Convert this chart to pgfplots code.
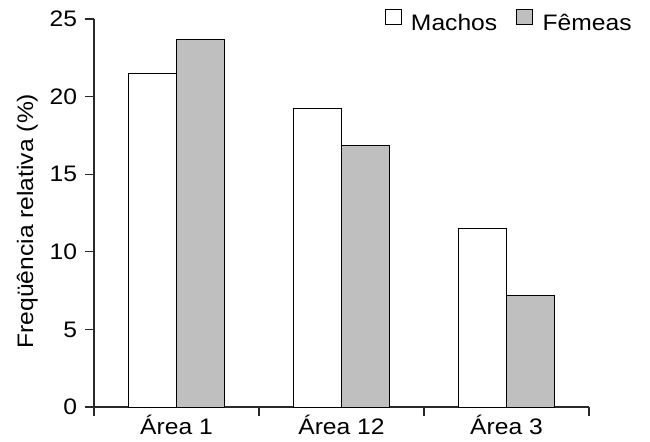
\documentclass[border=0pt]{standalone}
\usepackage{fontspec}
\setmainfont{Liberation Sans}[FakeStretch=1.1]
\usepackage{pgfplots}
\pgfplotsset{compat=1.18}
\definecolor{fem}{RGB}{191,191,191}
\definecolor{axc}{RGB}{40,40,40}
\begin{document}
\fontsize{11.2}{13.4}\selectfont
\begin{tikzpicture}
\path[use as bounding box] (-47pt,-17pt) rectangle (278pt,203.5pt);
\begin{axis}[
  scale only axis,
  width=247.5pt, height=194pt,
  at={(0,0)}, anchor=south west,
  ybar=0pt, bar width=24pt,
  xmin=-0.5, xmax=2.5,
  ymin=0, ymax=25,
  axis x line*=bottom, axis y line*=left,
  axis line style={axc, line width=0.6pt},
  xtick={0,1,2},
  xticklabels={Área 1, Área 12, Área 3},
  xticklabel style={anchor=base, yshift=-9pt},
  major x tick style={draw=none},
  minor xtick={-0.5,0.5,1.5,2.5},
  minor x tick style={axc, line width=0.6pt},
  minor tick length=4.5pt,
  ytick={0,5,10,15,20,25},
  major y tick style={axc, line width=0.6pt},
  major tick length=4.5pt,
  tick align=outside,
  tick label style={font=\fontsize{11.2}{13.4}\selectfont},
  /pgf/number format/assume math mode=true,
  ylabel={Freqüência relativa (\%)},
  ylabel style={at={(axis description cs:-0.1232,0.479)}, anchor=base, rotate=0, font=\fontsize{11.2}{13.4}\selectfont},
  legend columns=2,
  legend style={at={(axis description cs:1.087,1.028)}, anchor=north east, draw=none, fill=none,
    font=\fontsize{11.2}{13.4}\selectfont, inner sep=0pt, nodes={inner sep=0pt},
    column sep=0pt,
    /tikz/every odd column/.append style={column sep=4.8pt},
    /tikz/every even column/.append style={column sep=9.5pt}},
  legend image code/.code={\draw[#1, line width=0.4pt] (0pt,0pt) rectangle (8pt,7.5pt);},
  clip=false,
]
\addplot[draw=black, line width=0.5pt, fill=white] coordinates {(0,21.5) (1,19.25) (2,11.5)};
\addplot[draw=black, line width=0.5pt, fill=fem] coordinates {(0,23.7) (1,16.85) (2,7.2)};
\legend{Machos, Fêmeas}
\end{axis}
\end{tikzpicture}
\end{document}
